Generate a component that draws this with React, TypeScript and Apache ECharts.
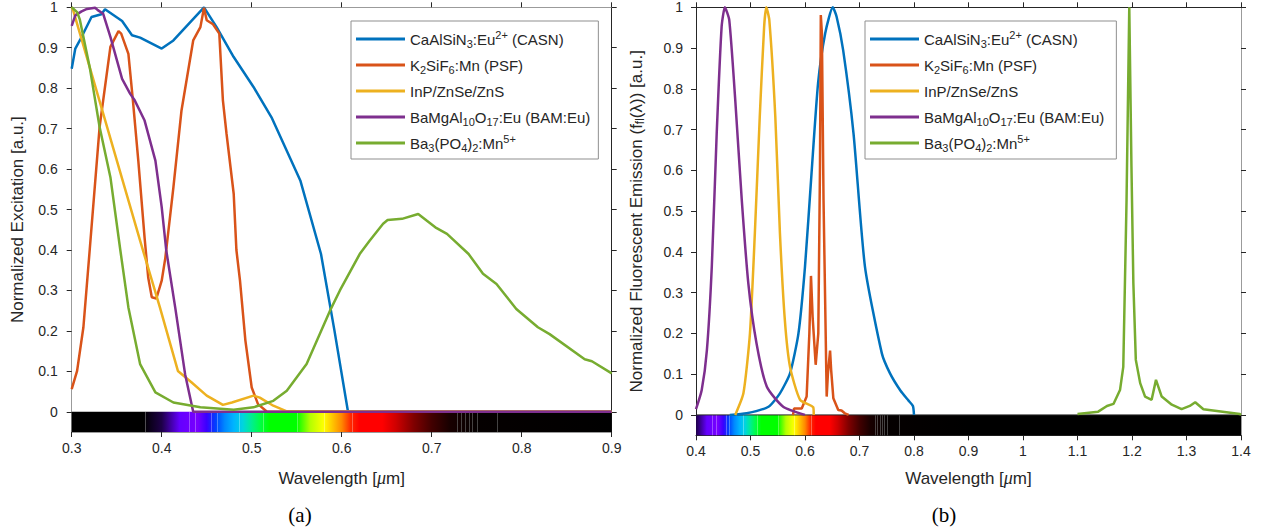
import React, { useEffect, useRef } from 'react';
import * as echarts from 'echarts';

const FONT = 'Liberation Sans';
const DARK = '#262626';
const GRAY = '#9b9b9b';

const EXC_X_MIN = 0.3;
const EXC_X_MAX = 0.9;
const EMI_X_MIN = 0.4;
const EMI_X_MAX = 1.4;
const Y_MIN = -0.05;
const Y_MAX = 1;
const Y_TICKS = [0, 0.1, 0.2, 0.3, 0.4, 0.5, 0.6, 0.7, 0.8, 0.9, 1];

const SERIES_NAMES = [
  'CaAlSiN3:Eu2+ (CASN)',
  'K2SiF6:Mn (PSF)',
  'InP/ZnSe/ZnS',
  'BaMgAl10O17:Eu (BAM:Eu)',
  'Ba3(PO4)2:Mn5+',
];
const LEGEND_RICH = [
  'CaAlSiN{sub|3}:Eu{sup|2+} (CASN)',
  'K{sub|2}SiF{sub|6}:Mn (PSF)',
  'InP/ZnSe/ZnS',
  'BaMgAl{sub|10}O{sub|17}:Eu (BAM:Eu)',
  'Ba{sub|3}(PO{sub|4}){sub|2}:Mn{sup|5+}',
];
const COLORS = ['#0072BD', '#D95319', '#EDB120', '#7E2F8E', '#77AC30'];

// (a) excitation spectra  [wavelength µm, normalized value]
const EXC_CASN = [[0.300,0.848],[0.304,0.898],[0.309,0.918],[0.322,0.976],[0.333,0.983],[0.337,0.995],[0.356,0.966],[0.367,0.931],[0.376,0.925],[0.400,0.898],[0.413,0.918],[0.447,1.0],[0.461,0.951],[0.480,0.877],[0.502,0.803],[0.522,0.728],[0.554,0.572],[0.577,0.39],[0.592,0.2],[0.607,0.0],[0.9,0.0]];
const EXC_PSF = [[0.300,0.056],[0.306,0.101],[0.313,0.209],[0.320,0.40],[0.331,0.704],[0.343,0.902],[0.352,0.941],[0.355,0.935],[0.363,0.885],[0.368,0.770],[0.374,0.621],[0.381,0.43],[0.385,0.332],[0.389,0.283],[0.394,0.28],[0.400,0.324],[0.404,0.38],[0.413,0.555],[0.422,0.745],[0.435,0.918],[0.443,0.951],[0.447,0.999],[0.450,0.968],[0.457,0.958],[0.464,0.935],[0.468,0.770],[0.472,0.688],[0.480,0.539],[0.483,0.40],[0.487,0.324],[0.493,0.176],[0.500,0.060],[0.507,0.019],[0.517,0.0],[0.9,0.0]];
const EXC_INP = [[0.300,1.0],[0.302,0.99],[0.376,0.423],[0.398,0.258],[0.418,0.101],[0.433,0.073],[0.450,0.04],[0.468,0.017],[0.478,0.023],[0.502,0.040],[0.509,0.035],[0.524,0.015],[0.539,0.001],[0.9,0.0]];
const EXC_BAM = [[0.300,0.954],[0.304,0.980],[0.311,0.99],[0.317,0.996],[0.326,0.999],[0.329,0.993],[0.335,0.984],[0.343,0.927],[0.356,0.823],[0.365,0.786],[0.370,0.77],[0.381,0.720],[0.393,0.621],[0.400,0.506],[0.405,0.40],[0.415,0.258],[0.426,0.093],[0.435,0.0],[0.9,0.0]];
const EXC_BAPO = [[0.300,1.0],[0.306,0.988],[0.309,0.97],[0.320,0.852],[0.331,0.704],[0.343,0.58],[0.354,0.40],[0.363,0.258],[0.376,0.118],[0.393,0.048],[0.413,0.023],[0.443,0.011],[0.480,0.005],[0.502,0.011],[0.524,0.027],[0.539,0.052],[0.561,0.118],[0.587,0.250],[0.598,0.30],[0.620,0.39],[0.631,0.423],[0.646,0.465],[0.651,0.474],[0.667,0.477],[0.685,0.489],[0.704,0.456],[0.717,0.440],[0.741,0.390],[0.757,0.341],[0.772,0.316],[0.794,0.254],[0.818,0.209],[0.831,0.192],[0.870,0.130],[0.878,0.125],[0.9,0.095]];

// (b) emission spectra
const EMI_CASN = [[0.462,0.0],[0.493,0.004],[0.533,0.020],[0.554,0.053],[0.5725,0.102],[0.588,0.2],[0.600,0.364],[0.612,0.593],[0.624,0.814],[0.637,0.936],[0.651,1.0],[0.658,0.977],[0.670,0.895],[0.689,0.691],[0.710,0.364],[0.741,0.151],[0.756,0.102],[0.775,0.06],[0.790,0.035],[0.798,0.022],[0.800,0.0]];
const EMI_PSF = [[0.578,0.0],[0.580,0.016],[0.594,0.016],[0.603,0.045],[0.608,0.2],[0.611,0.341],[0.614,0.24],[0.6196,0.123],[0.6244,0.2],[0.6275,0.609],[0.629,0.981],[0.631,0.937],[0.634,0.527],[0.6398,0.045],[0.642,0.10],[0.646,0.158],[0.648,0.11],[0.652,0.041],[0.661,0.012],[0.667,0.011],[0.673,0.004],[0.680,0.0]];
const EMI_INP = [[0.472,0.0],[0.487,0.053],[0.499,0.2],[0.508,0.446],[0.517,0.732],[0.525,0.952],[0.529,1.0],[0.5345,0.969],[0.5455,0.732],[0.554,0.446],[0.563,0.233],[0.5725,0.118],[0.591,0.037],[0.615,0.019],[0.616,0.0]];
const EMI_BAM = [[0.400,0.014],[0.4105,0.061],[0.420,0.159],[0.429,0.364],[0.438,0.691],[0.447,0.952],[0.453,1.0],[0.461,0.969],[0.472,0.773],[0.484,0.527],[0.496,0.323],[0.511,0.176],[0.530,0.069],[0.560,0.020],[0.600,0.0]];
const EMI_BAPO = [[1.100,0.002],[1.138,0.008],[1.154,0.022],[1.166,0.027],[1.178,0.061],[1.184,0.118],[1.190,0.527],[1.195,1.0],[1.199,0.609],[1.2025,0.323],[1.207,0.135],[1.215,0.078],[1.224,0.045],[1.236,0.037],[1.244,0.086],[1.2545,0.045],[1.273,0.025],[1.291,0.014],[1.306,0.022],[1.316,0.031],[1.331,0.014],[1.398,0.002],[1.400,0.0]];

const EXC_SERIES = [EXC_CASN, EXC_PSF, EXC_INP, EXC_BAM, EXC_BAPO];
const EMI_SERIES = [EMI_CASN, EMI_PSF, EMI_INP, EMI_BAM, EMI_BAPO];
const EMI_SMOOTH = [0.2, 0, 0.2, 0.2, 0];

// visible spectrum colour bar  [wavelength µm, colour]
const SPECTRUM: [number, string][] = [
  [0.30,'#000000'],[0.38,'#000000'],[0.40,'#1e0048'],[0.42,'#6400ff'],[0.44,'#7800ff'],[0.45,'#3a00ff'],
  [0.46,'#0040ff'],[0.47,'#0088ff'],[0.48,'#00b4ff'],[0.49,'#00d4e0'],[0.50,'#00ee90'],[0.51,'#00ff40'],
  [0.52,'#00ff00'],[0.55,'#00ff00'],[0.565,'#b4ff00'],[0.58,'#ffff00'],[0.59,'#ffc400'],[0.60,'#ff8800'],
  [0.61,'#ff2800'],[0.62,'#ff0000'],[0.645,'#ff0000'],[0.66,'#d00000'],[0.68,'#800000'],[0.70,'#420000'],
  [0.72,'#180000'],[0.75,'#050000'],[0.9,'#000000'],[1.4,'#000000'],
];
const SPECTRUM_LINES_LIGHT = [0.381, 0.43, 0.437, 0.455, 0.461, 0.486, 0.512, 0.55, 0.58, 0.611];
const SPECTRUM_LINES_DARK = [0.728, 0.732, 0.737, 0.741, 0.745, 0.75, 0.772];

const renderSpectrum = (xmin: number, xmax: number) => (_params: any, api: any) => {
  const p0 = api.coord([api.value(0), api.value(1)]);
  const p1 = api.coord([api.value(2), api.value(3)]);
  const stops = SPECTRUM.filter(([l]) => l >= xmin - 1e-9 && l <= xmax + 1e-9).map(([l, c]) => ({
    offset: (l - xmin) / (xmax - xmin),
    color: c,
  }));
  const children: any[] = [
    {
      type: 'rect',
      shape: { x: p0[0], y: p0[1], width: p1[0] - p0[0], height: p1[1] - p0[1] },
      style: { fill: new echarts.graphic.LinearGradient(0, 0, 1, 0, stops) },
    },
  ];
  const addLines = (arr: number[], stroke: string) =>
    arr.forEach((l) => {
      if (l > xmin && l < xmax) {
        const px = Math.round(api.coord([l, 0])[0]) + 0.5;
        children.push({
          type: 'line',
          shape: { x1: px, y1: p0[1], x2: px, y2: p1[1] },
          style: { stroke, lineWidth: 1 },
        });
      }
    });
  addLines(SPECTRUM_LINES_LIGHT, 'rgba(255,255,255,0.3)');
  addLines(SPECTRUM_LINES_DARK, 'rgba(110,110,110,0.6)');
  return { type: 'group', children };
};

const legendTextStyle = {
  fontFamily: FONT,
  fontSize: 15,
  color: DARK,
  lineHeight: 20,
  rich: {
    sub: { fontFamily: FONT, fontSize: 11, lineHeight: 8, color: DARK, verticalAlign: 'bottom' },
    sup: { fontFamily: FONT, fontSize: 11, lineHeight: 10, color: DARK, verticalAlign: 'top' },
  },
};

const makeLegend = (left: number, padRight: number) => ({
  orient: 'vertical',
  left,
  top: 21,
  padding: [8, padRight, 6, 5],
  itemGap: 6,
  itemWidth: 49,
  itemHeight: 3,
  icon: 'rect',
  selectedMode: false,
  backgroundColor: '#ffffff',
  borderColor: '#8f8f8f',
  borderWidth: 1,
  borderRadius: 0,
  data: SERIES_NAMES,
  textStyle: legendTextStyle,
  formatter: (n: string) => LEGEND_RICH[SERIES_NAMES.indexOf(n)],
});

const xNameStyle = {
  fontFamily: FONT,
  fontSize: 17,
  color: DARK,
  lineHeight: 20,
  rich: { mu: { fontFamily: 'Liberation Serif', fontStyle: 'italic', fontSize: 18, color: DARK } },
};

const makeXAxes = (gi: number, min: number, max: number, bottomColor: string, topColor: string, nameGap: number) => [
  {
    type: 'value', gridIndex: gi, position: 'bottom', min, max, interval: 0.1,
    axisLine: { show: true, onZero: false, lineStyle: { color: bottomColor, width: 1 } },
    axisTick: { show: true, inside: false, length: 5, lineStyle: { color: DARK, width: 1 } },
    axisLabel: { show: true, margin: 9, fontFamily: FONT, fontSize: 14, color: DARK },
    splitLine: { show: false },
    name: 'Wavelength [{mu|μ}m]', nameLocation: 'middle', nameGap, nameTextStyle: xNameStyle,
  },
  {
    type: 'value', gridIndex: gi, position: 'top', min, max, interval: 0.1,
    axisLine: { show: true, onZero: false, lineStyle: { color: topColor, width: 1 } },
    axisTick: { show: true, inside: false, length: 5, lineStyle: { color: DARK, width: 1 } },
    axisLabel: { show: false },
    splitLine: { show: false },
  },
];

const makeYAxes = (gi: number, leftColor: string, rightColor: string, name: string, nameGap: number, labelMargin: number) => [
  {
    type: 'value', gridIndex: gi, position: 'left', min: Y_MIN, max: Y_MAX,
    splitNumber: 10, minInterval: 0.1, maxInterval: 0.1,
    axisLine: { show: true, onZero: false, lineStyle: { color: leftColor, width: 1 } },
    axisTick: { show: true, inside: false, length: 5, customValues: Y_TICKS, lineStyle: { color: DARK, width: 1 } },
    axisLabel: {
      show: true, margin: labelMargin, fontFamily: FONT, fontSize: 14, color: DARK, customValues: Y_TICKS,
      formatter: (v: number) => (v < 0 ? '' : String(Math.round(v * 10) / 10)),
    },
    splitLine: { show: false },
    name, nameLocation: 'middle', nameGap,
    nameTextStyle: {
      fontFamily: FONT, fontSize: 17, color: DARK, lineHeight: 20,
      rich: {
        sub: { fontFamily: FONT, fontSize: 12, lineHeight: 12, color: DARK, verticalAlign: 'bottom' },
      },
    },
  },
  {
    type: 'value', gridIndex: gi, position: 'right', min: Y_MIN, max: Y_MAX,
    splitNumber: 10, minInterval: 0.1, maxInterval: 0.1,
    axisLine: { show: true, onZero: false, lineStyle: { color: rightColor, width: 1 } },
    axisTick: { show: true, inside: false, length: 5, customValues: Y_TICKS, lineStyle: { color: DARK, width: 1 } },
    axisLabel: { show: false },
    splitLine: { show: false },
  },
];

const lineSeries = (data: number[][], i: number, xi: number, yi: number, smooth: number) => ({
  type: 'line',
  name: SERIES_NAMES[i],
  xAxisIndex: xi,
  yAxisIndex: yi,
  data,
  showSymbol: false,
  symbol: 'none',
  smooth,
  clip: true,
  z: 3 + i,
  color: COLORS[i],
  itemStyle: { color: COLORS[i] },
  lineStyle: { color: COLORS[i], width: 2.5 },
  emphasis: { disabled: true },
});

const buildOption = () => ({
  animation: false,
  backgroundColor: '#ffffff',
  textStyle: { fontFamily: FONT },
  grid: [
    { left: 71.7, top: 7.3, width: 540, height: 424.7 },
    { left: 696, top: 7.3, width: 545, height: 428 },
  ],
  xAxis: [
    ...makeXAxes(0, EXC_X_MIN, EXC_X_MAX, GRAY, GRAY, 36),
    ...makeXAxes(1, EMI_X_MIN, EMI_X_MAX, DARK, DARK, 33),
  ],
  yAxis: [
    ...makeYAxes(0, GRAY, DARK, 'Normalized Excitation [a.u.]', 44, 14),
    ...makeYAxes(1, DARK, GRAY, 'Normalized Fluorescent Emission (f{sub|fl}(λ)) [a.u.]', 50, 13),
  ],
  legend: [makeLegend(351, 8), makeLegend(865, 12)],
  series: [
    {
      type: 'custom', xAxisIndex: 0, yAxisIndex: 0, silent: true, z: 1,
      data: [[EXC_X_MIN, 0, EXC_X_MAX, Y_MIN]],
      renderItem: renderSpectrum(EXC_X_MIN, EXC_X_MAX),
    },
    ...EXC_SERIES.map((d, i) => lineSeries(d, i, 0, 0, 0)),
    {
      type: 'custom', xAxisIndex: 2, yAxisIndex: 2, silent: true, z: 1,
      data: [[EMI_X_MIN, 0, EMI_X_MAX, Y_MIN]],
      renderItem: renderSpectrum(EMI_X_MIN, EMI_X_MAX),
    },
    {
      type: 'line', name: 'zero', xAxisIndex: 2, yAxisIndex: 2, silent: true, z: 2,
      data: [[EMI_X_MIN, 0], [EMI_X_MAX, 0]],
      showSymbol: false, symbol: 'none',
      lineStyle: { color: DARK, width: 1 },
      emphasis: { disabled: true },
    },
    ...EMI_SERIES.map((d, i) => lineSeries(d, i, 2, 2, EMI_SMOOTH[i])),
  ],
  graphic: [
    {
      type: 'text', x: 300, y: 515,
      style: { text: '(a)', fontFamily: 'Liberation Serif', fontSize: 21, fill: '#000000', align: 'center', verticalAlign: 'middle' },
    },
    {
      type: 'text', x: 944, y: 515,
      style: { text: '(b)', fontFamily: 'Liberation Serif', fontSize: 21, fill: '#000000', align: 'center', verticalAlign: 'middle' },
    },
  ],
});

export default function App() {
  const ref = useRef<HTMLDivElement>(null);
  useEffect(() => {
    if (!ref.current) return;
    const chart = echarts.init(ref.current, null, { renderer: 'svg' });
    chart.setOption(buildOption() as any);
    return () => chart.dispose();
  }, []);
  return (
    <div
      ref={ref}
      style={{ position: 'absolute', left: 0, top: 0, width: 1265, height: 531, background: '#ffffff' }}
    />
  );
}
